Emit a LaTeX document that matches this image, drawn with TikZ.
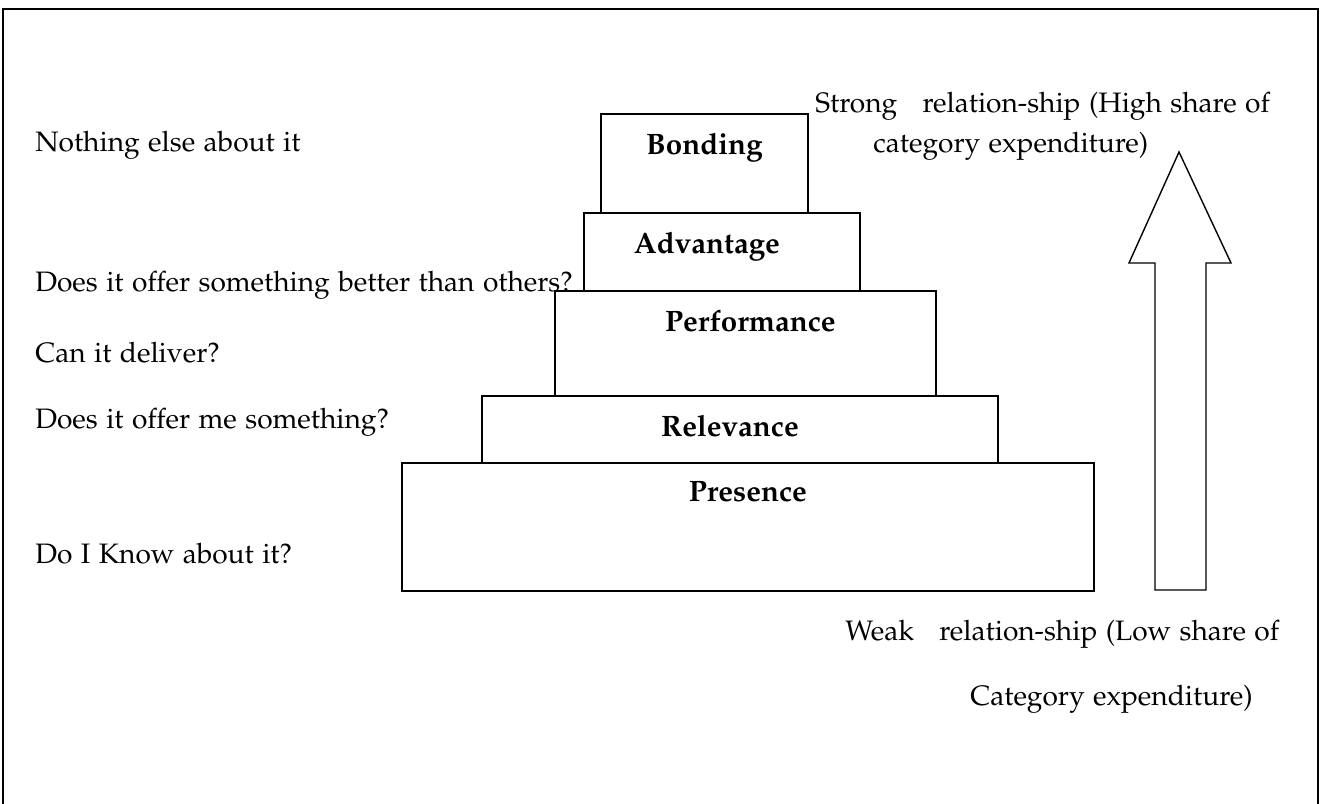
\documentclass[tikz,border=0pt]{standalone}
\usepackage[T1]{fontenc}
\usepackage{mathpazo}
\usepackage{tikz}
\usetikzlibrary{positioning}
\newcommand{\askfont}{\fontsize{16}{19}\selectfont\spaceskip=0.3em plus 0.1em minus 0.1em\relax}
\tikzset{tier/.style={draw, line width=1.1pt, anchor=north west, inner sep=0pt},
  tiertext/.style={font=\fontsize{16.8}{20}\selectfont\bfseries},
  ask/.style={anchor=base west, inner sep=0pt, font=\askfont}}

\begin{document}
\begin{tikzpicture}[x=0.02cm, y=-0.02cm]
            \useasboundingbox (0,0) rectangle (1322,804);
            \draw[line width=1.1pt] (3,804) -- (3,9) -- (1318,9) -- (1318,804);

            \node[tier, minimum width=4.14cm, minimum height=1.98cm] (bond) at (600,113) {};
            \node[tier, minimum width=5.52cm, minimum height=1.56cm] (adv) at (583,212) {};
            \node[tier, minimum width=7.62cm, minimum height=2.10cm] (perf) at (554,290) {};
            \node[tier, minimum width=10.32cm, minimum height=1.34cm] (rel) at (481,395) {};
            \node[tier, minimum width=13.84cm, minimum height=2.56cm] (pres) at (401,462) {};

            \node[tiertext, below=0.28cm of bond.north] (tbond) {Bonding};
            \node[tiertext, below=0.28cm of adv.north, xshift=-0.3cm] (tadv) {Advantage};
            \node[tiertext, below=0.28cm of perf.north, xshift=0.1cm] (tperf) {Performance};
            \node[tiertext, below=0.28cm of rel.north, xshift=-0.2cm] (trel) {Relevance};
            \node[tiertext, below=0.28cm of pres.north] (tpres) {Presence};

            \node[ask] (q1) at (35,152) {Nothing else about it};
            \node[ask] (q2) at (35,292) {Does it offer something better than others?};
            \node[ask] (q3) at (35,362) {Can it deliver?};
            \node[ask] (q4) at (35,428) {Does it offer me something?};
            \node[ask] (q5) at (35,563) {Do I Know about it?};

            \node[ask] (s1) at (815,113) {Strong\ \ \ relation-ship (High share of};
            \node[ask] (s2) at (873,153) {category expenditure)};
            \node[ask] (w1) at (845,640) {Weak\ \ \ relation-ship (Low share of};
            \node[ask] (w2) at (970,705) {Category expenditure)};

            \draw[line width=0.8pt, line join=miter] (1155,590) -- (1155,263) -- (1129,263) -- (1179,152)
                -- (1231,263) -- (1206,263) -- (1206,590) -- cycle;
        \end{tikzpicture}
\end{document}
